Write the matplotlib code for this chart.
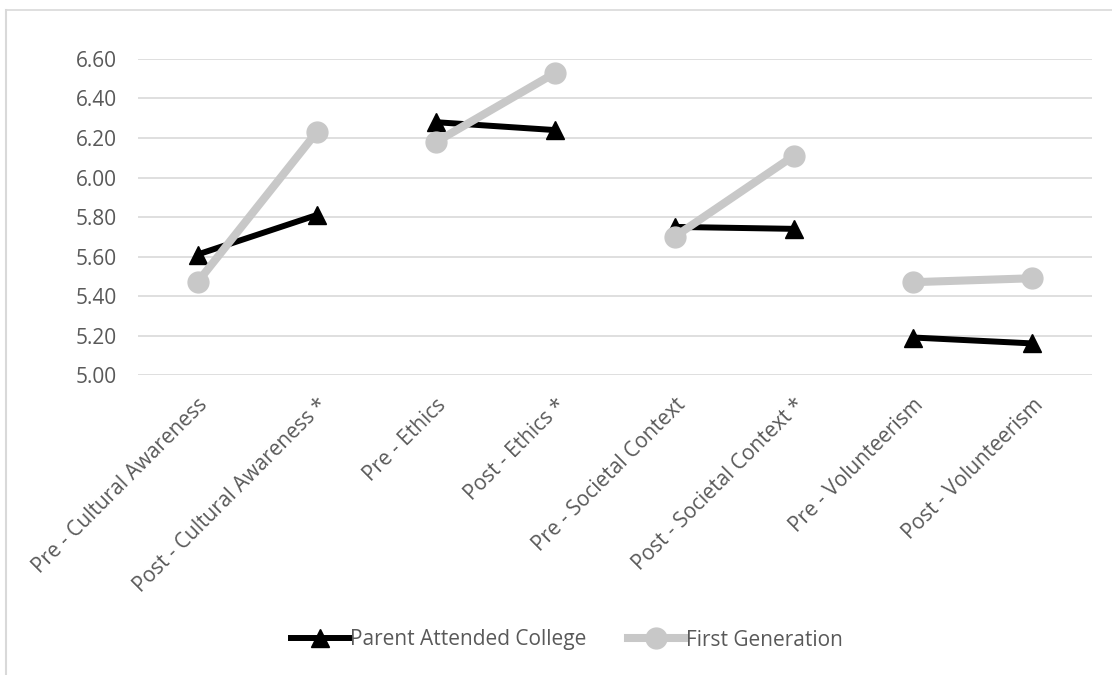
import matplotlib
matplotlib.use("Agg")
import matplotlib.pyplot as plt
from matplotlib.lines import Line2D
import numpy as np

categories = ["Pre - Cultural Awareness", "Post - Cultural Awareness *",
              "Pre - Ethics", "Post - Ethics *",
              "Pre - Societal Context", "Post - Societal Context *",
              "Pre - Volunteerism", "Post - Volunteerism"]
parent_attended = [5.61, 5.81, 6.28, 6.24, 5.75, 5.74, 5.19, 5.16]
first_generation = [5.47, 6.23, 6.18, 6.53, 5.70, 6.11, 5.47, 5.49]
yticks = [5.00, 5.20, 5.40, 5.60, 5.80, 6.00, 6.20, 6.40, 6.60]

plt.rcParams['font.family'] = ['Open Sans', 'DejaVu Sans']

fig = plt.figure(figsize=(11.12, 6.75), dpi=100)
ax = fig.add_axes([0.124, 0.4444, 0.858, 0.4682])

x = np.arange(len(categories))
black = "#000000"
gray = "#c8c8c8"

for i in range(0, len(categories), 2):
    ax.plot(x[i:i+2], parent_attended[i:i+2], color=black, lw=4.3,
            marker="^", ms=13, solid_capstyle="round", zorder=3)
for i in range(0, len(categories), 2):
    ax.plot(x[i:i+2], first_generation[i:i+2], color=gray, lw=5.8,
            marker="o", ms=15, solid_capstyle="round", zorder=4)

ax.set_xlim(-0.5, len(categories) - 0.5)
ax.set_ylim(5.0, 6.6)
ax.set_yticks(yticks)
ax.set_yticklabels([f"{v:.2f}" for v in yticks])
ax.set_xticks(x)
ax.set_xticklabels(categories, rotation=45, ha="right", rotation_mode="anchor")
ax.grid(axis="y", color="#d9d9d9", lw=1.2)
ax.set_axisbelow(True)
for s in ax.spines.values():
    s.set_visible(False)
ax.tick_params(axis="both", length=0, colors="#595959", labelsize=15)
ax.tick_params(axis="y", pad=15)
ax.tick_params(axis="x", pad=14)

handles = [Line2D([], [], color=black, lw=4.3, marker="^", ms=13),
           Line2D([], [], color=gray, lw=5.8, marker="o", ms=15)]
leg = fig.legend(handles, ["Parent Attended College", "First Generation"],
                 loc="center", bbox_to_anchor=(0.51, 1 - 640 / 675), ncol=2,
                 frameon=False, fontsize=15, handlelength=2.75,
                 handletextpad=0.05, columnspacing=2.0)
for t in leg.get_texts():
    t.set_color("#595959")

# chart-area border (top and left visible)
fig.add_artist(Line2D([6 / 1112, 1.0], [1 - 10 / 675, 1 - 10 / 675],
                      transform=fig.transFigure, color="#d9d9d9", lw=1.2))
fig.add_artist(Line2D([6 / 1112, 6 / 1112], [0, 1 - 10 / 675],
                      transform=fig.transFigure, color="#d9d9d9", lw=1.5))

fig.savefig("out.png", dpi=100)
